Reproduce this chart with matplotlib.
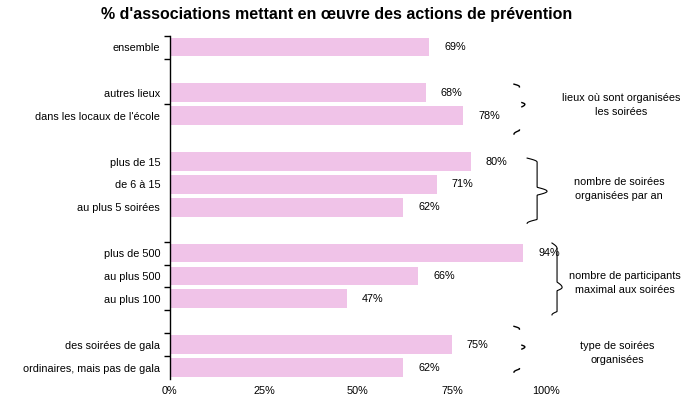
import numpy as np
import matplotlib
matplotlib.use("Agg")
import matplotlib.pyplot as plt

plt.rcParams["font.family"] = ["Liberation Sans", "DejaVu Sans"]

# -- data ----------------------------------------------------------------------
labels = [
    "ensemble",
    "autres lieux", "dans les locaux de l'école",
    "plus de 15", "de 6 à 15", "au plus 5 soirées",
    "plus de 500", "au plus 500", "au plus 100",
    "des soirées de gala", "ordinaires, mais pas de gala",
]
values = [69, 68, 78, 80, 71, 62, 94, 66, 47, 75, 62]
rows = [0, 2, 3, 5, 6, 7, 9, 10, 11, 13, 14]   # gaps between groups

group_names = [
    "lieux où sont organisées\nles soirées",
    "nombre de soirées\norganisées par an",
    "nombre de participants\nmaximal aux soirées",
    "type de soirées\norganisées",
]
x_ticks = [0, 25, 50, 75, 100]
x_ticklabels = ["0%", "25%", "50%", "75%", "100%"]

BAR_COLOR = "#F0C3E8"
FS = 7.8

# -- figure --------------------------------------------------------------------
fig = plt.figure(figsize=(6.85, 4.03), dpi=100)
ax = fig.add_axes([0.248, 0.0596, 0.549, 0.852])

ax.barh(rows, values, height=0.82, color=BAR_COLOR, edgecolor="none")
for r, v in zip(rows, values):
    ax.text(v + 4, r, f"{v}%", va="center", ha="left", fontsize=FS)

ax.set_xlim(0, 100)
ax.set_ylim(14.5, -0.5)
ax.set_yticks(rows)
ax.set_yticklabels(labels, fontsize=FS)
ax.tick_params(axis="y", length=0, pad=7)
ax.set_yticks([-0.5, 0.5, 2.5, 8.5, 9.5, 10.5, 11.5, 12.5, 13.5], minor=True)
ax.tick_params(axis="y", which="minor", length=4, width=1, direction="out")

ax.set_xticks(x_ticks)
ax.set_xticklabels(x_ticklabels, fontsize=FS)
ax.tick_params(axis="x", length=0, pad=5)
ax.set_xticks([25], minor=True)
ax.tick_params(axis="x", which="minor", length=3, width=1, direction="out")

for side in ["top", "right", "bottom"]:
    ax.spines[side].set_visible(False)
ax.spines["left"].set_linewidth(1)


# -- braces on the right -------------------------------------------------------
def brace(x0, x1, y0, y1, ym, n=60):
    """curly brace opening left, tip pointing right at ym"""
    w = x1 - x0
    t = np.linspace(0, 1, n)
    s = np.clip(t / 0.12, 0, 1)
    e = np.clip((t - 0.88) / 0.12, 0, 1)
    # upper half: curl out of the top end, straight, curl into the tip
    xa = x0 + w * 0.5 * np.sin(s * np.pi / 2) + w * 0.5 * np.sin(e * np.pi / 2)
    ya = y0 + (ym - y0) * t
    # lower half: mirror of the upper one
    xb = x0 + w * 0.5 * np.cos(s * np.pi / 2) + w * 0.5 * (1 - np.sin(e * np.pi / 2))
    yb = ym + (y1 - ym) * t
    return np.concatenate([xa, xb]), np.concatenate([ya, yb])


brace_specs = [
    # x0, x1, y_top, y_bottom, y_tip, full line?
    (91.5, 94.4, 1.62, 3.8, 2.5, False),
    (95.0, 100.3, 4.85, 7.7, 6.3, True),
    (101.6, 104.3, 8.56, 11.7, 10.5, True),
    (91.5, 94.4, 12.2, 14.2, 13.1, False),
]
text_pos = [(120.0, 2.55), (119.5, 6.2), (121.0, 10.3), (119.0, 13.35)]

for (x0, x1, y0, y1, ym, full), name, (tx, ty) in zip(brace_specs, group_names, text_pos):
    bx, by = brace(x0, x1, y0, y1, ym)
    if full:
        ax.plot(bx, by, color="black", lw=0.8, clip_on=False)
    else:
        # only the tips show up in the original rendering
        k = len(bx) // 2
        for sl in [slice(0, 9), slice(k - 6, k + 6), slice(len(bx) - 9, len(bx))]:
            ax.plot(bx[sl], by[sl], color="black", lw=1.0, clip_on=False)
    ax.text(tx, ty, name, ha="center", va="center", fontsize=FS,
            linespacing=1.5, clip_on=False)

fig.text(0.492, 0.963, "% d'associations mettant en œuvre des actions de prévention",
         ha="center", va="center", fontsize=11.5, fontweight="bold")

fig.savefig("out.png", dpi=100)
